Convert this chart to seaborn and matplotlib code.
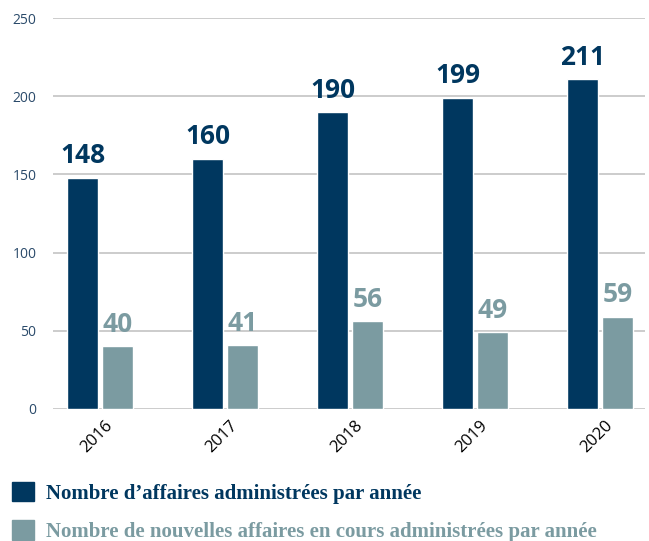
import pandas as pd
import numpy as np
import seaborn as sns
import matplotlib.pyplot as plt
import matplotlib.transforms as mtransforms

# values
years = ["2016", "2017", "2018", "2019", "2020"]
total_cases = [148, 160, 190, 199, 211]
new_cases = [40, 41, 56, 49, 59]
series_names = ["Nombre d\u2019affaires administrées par année",
                "Nombre de nouvelles affaires en cours administrées par année"]

NAVY = "#00375f"
TEAL = "#7b9ba1"

df = pd.DataFrame({
    "year": years * 2,
    "value": total_cases + new_cases,
    "series": [series_names[0]] * len(years) + [series_names[1]] * len(years),
})

sns.set_theme(style="white")
plt.rcParams['font.family'] = ['Open Sans', 'DejaVu Sans']

fig = plt.figure(figsize=(6.49, 5.41), dpi=100)
ax = fig.add_axes([0.0817, 0.244, 0.912, 0.7227])

sns.barplot(data=df, x="year", y="value", hue="series", order=years,
            hue_order=series_names, palette=[NAVY, TEAL],
            width=0.56, gap=0.1, saturation=1, legend=False, ax=ax)

# value labels above each bar
for container, color in zip(ax.containers, [NAVY, TEAL]):
    labels = [f"{int(v)}" for v in container.datavalues]
    ax.bar_label(container, labels=labels, padding=6, color=color,
                 fontsize=19, fontweight="bold")

ax.set_ylim(0, 250)
ax.set_xlim(-0.376, 4.36)
ax.set_yticks(range(0, 251, 50))
ax.yaxis.grid(True, color="#cccccc", linewidth=1.4)
ax.set_axisbelow(True)
for s in ax.spines.values():
    s.set_visible(False)
ax.set_xlabel("")
ax.set_ylabel("")
ax.tick_params(axis="y", colors="#2a4a6a", labelsize=10, pad=12, length=0)
ax.tick_params(axis="x", colors="black", labelsize=12, length=0, pad=6)
shift = mtransforms.ScaledTranslation(5 / 100, 0, fig.dpi_scale_trans)
for lbl in ax.get_xticklabels():
    lbl.set_rotation(45)
    lbl.set_ha("right")
    lbl.set_rotation_mode("anchor")
    lbl.set_transform(lbl.get_transform() + shift)

# legend below the plot
handles = [plt.Rectangle((0, 0), 1, 1, color=NAVY),
           plt.Rectangle((0, 0), 1, 1, color=TEAL)]
leg = fig.legend(handles, series_names, loc="upper left",
                 bbox_to_anchor=(0.005, 0.125), frameon=False,
                 prop={"family": "Liberation Serif", "weight": "bold", "size": 15},
                 handlelength=1.06, handleheight=1.06, handletextpad=0.6,
                 labelspacing=0.8, borderaxespad=0)
for txt, c in zip(leg.get_texts(), [NAVY, TEAL]):
    txt.set_color(c)

fig.savefig("out.png", dpi=100)
